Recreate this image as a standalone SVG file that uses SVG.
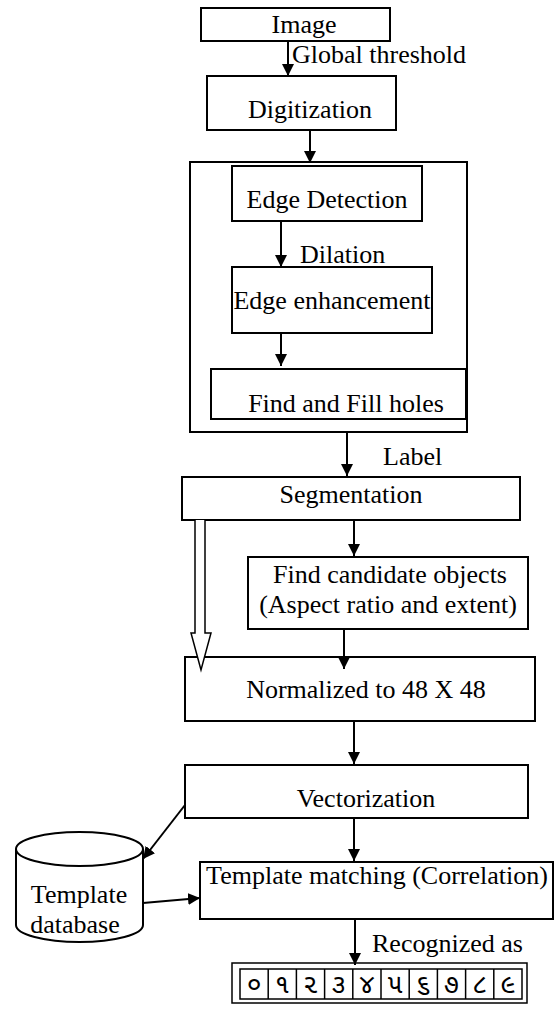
<svg xmlns="http://www.w3.org/2000/svg" width="560" height="1016" viewBox="0 0 560 1016">
<defs>
<marker id="ah" markerUnits="userSpaceOnUse" markerWidth="12" markerHeight="14" refX="12" refY="6" orient="auto">
<path d="M0,0 L12,6 L0,12 Z" fill="#000"/>
</marker>
<style>
.b{fill:#fff;stroke:#000;stroke-width:2}
.t{font-family:"Liberation Serif","Times New Roman",serif;font-size:26px;fill:#000}
.m{text-anchor:middle}
.c{stroke:#000;stroke-width:2;fill:none}
.g{stroke:#000;stroke-width:1.5;fill:#fff}
.d{font-family:"Noto Sans Gujarati","Lohit Gujarati","Noto Sans",sans-serif;font-size:27px;fill:#000;text-anchor:middle}
</style>
</defs>
<rect width="560" height="1016" fill="#fff"/>
<g id="outer"><rect class="b" x="190" y="162" width="277" height="270"/></g>
<g id="image"><rect class="b" x="201" y="8" width="189" height="33"/><text class="t m" x="304" y="33">Image</text></g>
<g id="digitization"><rect class="b" x="207" y="76" width="189" height="54"/><text class="t m" x="310" y="118">Digitization</text></g>
<g id="edgedetection"><rect class="b" x="232" y="166" width="190" height="55"/><text class="t m" x="327" y="208">Edge Detection</text></g>
<g id="edgeenh"><rect class="b" x="232" y="267" width="200" height="66"/><text class="t m" x="332" y="309">Edge enhancement</text></g>
<g id="fillholes"><rect class="b" x="211" y="369" width="255" height="50"/><text class="t m" x="346" y="412">Find and Fill holes</text></g>
<g id="segmentation"><rect class="b" x="182" y="477" width="338" height="43"/><text class="t m" x="351" y="503">Segmentation</text></g>
<g id="candidates"><rect class="b" x="248" y="557" width="280" height="72"/><text class="t m" x="390" y="583">Find candidate objects</text><text class="t m" x="388" y="613">(Aspect ratio and extent)</text></g>
<g id="normalized"><rect class="b" x="185" y="657" width="350" height="64"/><text class="t m" x="366" y="698">Normalized to 48 X 48</text></g>
<g id="vectorization"><rect class="b" x="185" y="765" width="343" height="53"/><text class="t m" x="366" y="807">Vectorization</text></g>
<g id="templatematching"><rect class="b" x="200" y="862" width="353" height="57"/><text class="t m" x="377" y="884">Template matching (Correlation)</text></g>
<g id="database">
<path class="b" d="M16,849 A63.5,17 0 0 1 143,849 L143,925 A63.5,17 0 0 1 16,925 Z"/>
<path class="c" d="M16,849 A63.5,17 0 0 0 143,849"/>
<text class="t m" x="79" y="903">Template</text><text class="t m" x="75" y="933">database</text>
</g>
<g id="digits">
<rect class="g" x="232" y="963" width="295" height="40"/>
<rect class="g" x="240" y="969" width="282" height="30"/>
<g stroke="#000" stroke-width="1.5">
<line x1="268.2" y1="969" x2="268.2" y2="999"/><line x1="296.4" y1="969" x2="296.4" y2="999"/><line x1="324.6" y1="969" x2="324.6" y2="999"/><line x1="352.8" y1="969" x2="352.8" y2="999"/><line x1="381" y1="969" x2="381" y2="999"/><line x1="409.2" y1="969" x2="409.2" y2="999"/><line x1="437.4" y1="969" x2="437.4" y2="999"/><line x1="465.6" y1="969" x2="465.6" y2="999"/><line x1="493.8" y1="969" x2="493.8" y2="999"/>
</g>
<text class="d" x="254.1" y="993">૦</text><text class="d" x="282.3" y="993">૧</text><text class="d" x="310.5" y="993">૨</text><text class="d" x="338.7" y="993">૩</text><text class="d" x="366.9" y="993">૪</text><text class="d" x="395.1" y="993">૫</text><text class="d" x="423.3" y="993">૬</text><text class="d" x="451.5" y="993">૭</text><text class="d" x="479.7" y="993">૮</text><text class="d" x="507.9" y="993">૯</text>
</g>
<g id="labels">
<text class="t" x="292" y="63">Global threshold</text>
<text class="t" x="300" y="263">Dilation</text>
<text class="t" x="383" y="465">Label</text>
<text class="t" x="372" y="952">Recognized as</text>
</g>
<g id="connectors">
<line class="c" x1="288" y1="41" x2="288" y2="76" marker-end="url(#ah)"/>
<line class="c" x1="310" y1="130" x2="310" y2="163" marker-end="url(#ah)"/>
<line class="c" x1="281" y1="221" x2="281" y2="267" marker-end="url(#ah)"/>
<line class="c" x1="281" y1="333" x2="281" y2="366" marker-end="url(#ah)"/>
<line class="c" x1="347" y1="432" x2="347" y2="476" marker-end="url(#ah)"/>
<line class="c" x1="354" y1="520" x2="354" y2="556" marker-end="url(#ah)"/>
<line class="c" x1="344" y1="629" x2="344" y2="669" marker-end="url(#ah)"/>
<path d="M195,520 L195,633 L191,633 L201,670 L211,633 L205,633 L205,520" fill="#fff" stroke="#000" stroke-width="1.5"/>
<line class="c" x1="354" y1="721" x2="354" y2="764" marker-end="url(#ah)"/>
<line class="c" x1="354" y1="818" x2="354" y2="861" marker-end="url(#ah)"/>
<line class="c" x1="185" y1="805" x2="143" y2="859" marker-end="url(#ah)"/>
<line class="c" x1="143" y1="903" x2="200" y2="898" marker-end="url(#ah)"/>
<line class="c" x1="355" y1="919" x2="355" y2="965" marker-end="url(#ah)"/>
</g>
</svg>
